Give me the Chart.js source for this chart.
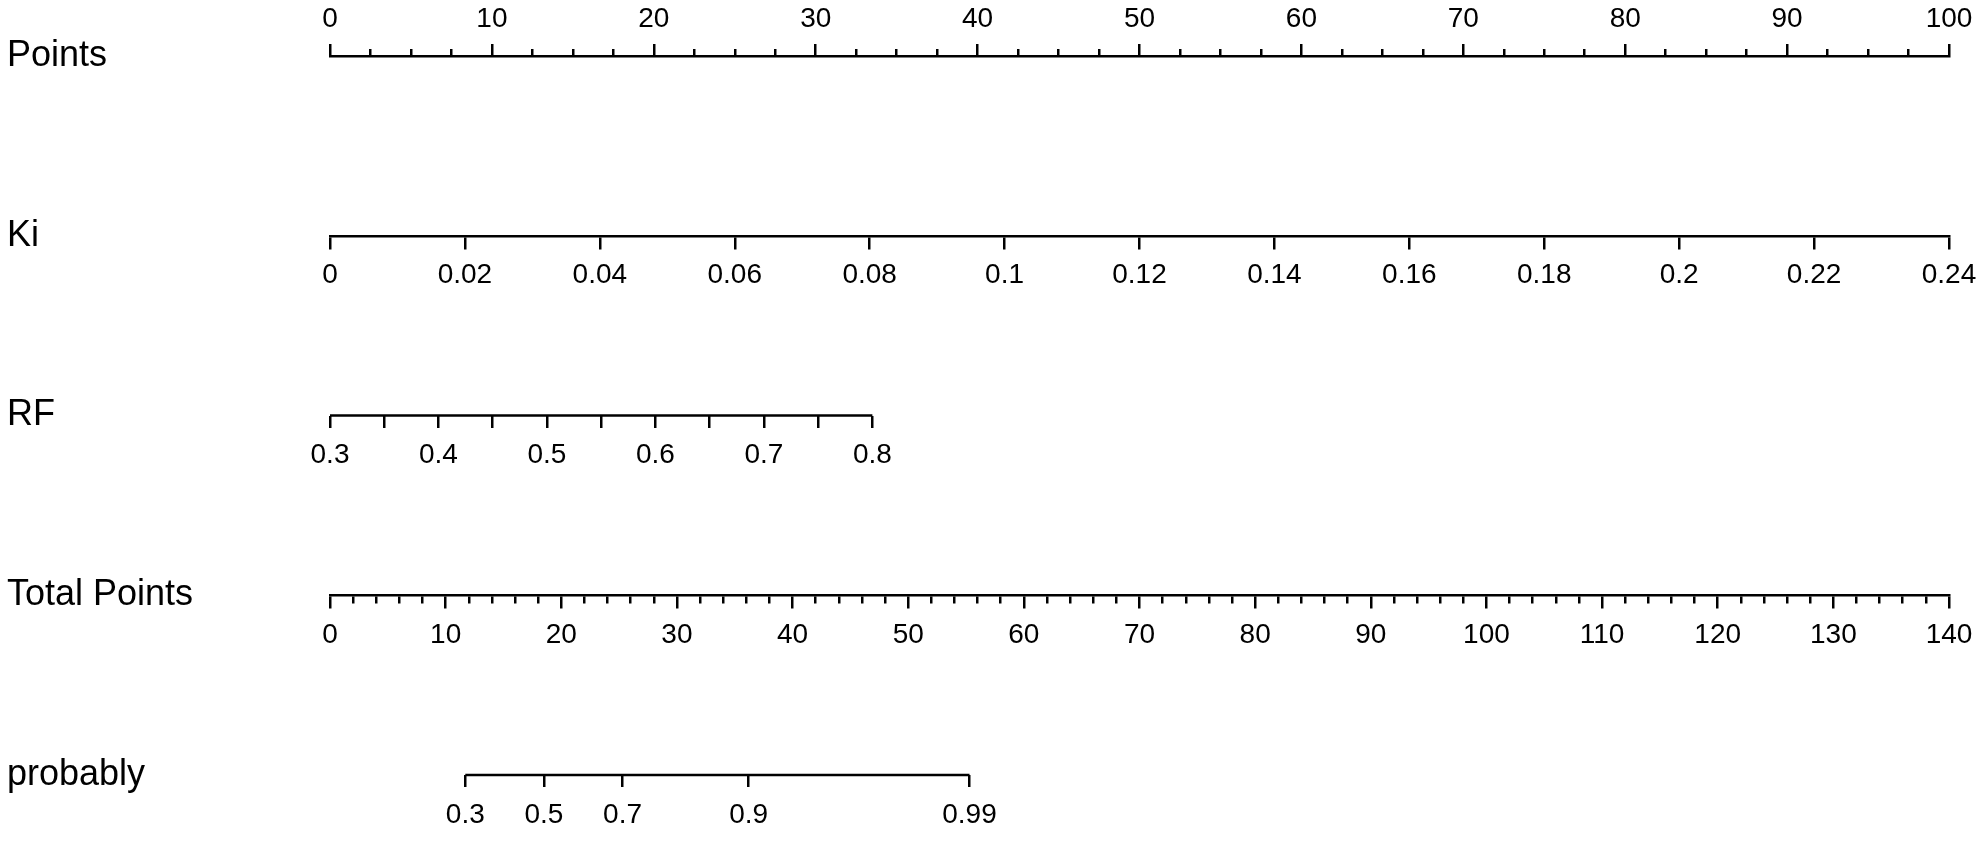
<!DOCTYPE html>
<html>
<head>
<meta charset="utf-8">
<script src="https://cdn.jsdelivr.net/npm/chart.js@4.4.1/dist/chart.umd.min.js"></script>
<style>
  html, body { margin: 0; padding: 0; background: #fff; }
  #wrap { width: 1988px; height: 849px; }
</style>
</head>
<body>
<div id="wrap"><canvas id="nomogram" width="1988" height="849"></canvas></div>
<script>
// rows of the nomogram, top to bottom
const rowNames = ['Points', 'Ki', 'RF', 'Total Points', 'probably'];

// Points scale (0-100), minor ticks every 2.5
const pointsLabels = [0, 10, 20, 30, 40, 50, 60, 70, 80, 90, 100];
const pointsMinorStep = 2.5;

// Ki scale, spans the whole points range
const kiTicks = [0, 0.02, 0.04, 0.06, 0.08, 0.1, 0.12, 0.14, 0.16, 0.18, 0.2, 0.22, 0.24];
const kiLabels = ['0', '0.02', '0.04', '0.06', '0.08', '0.1', '0.12', '0.14', '0.16', '0.18', '0.2', '0.22', '0.24'];

// RF scale, 0.3 -> 0 points, 0.8 -> ~33.5 points
const rfTicks = [0.3, 0.35, 0.4, 0.45, 0.5, 0.55, 0.6, 0.65, 0.7, 0.75, 0.8];
const rfLabels = ['0.3', '', '0.4', '', '0.5', '', '0.6', '', '0.7', '', '0.8'];
const rfPointsAtMax = 33.5;

// Total points scale (0-140), minor ticks every 2
const totalLabels = [0, 10, 20, 30, 40, 50, 60, 70, 80, 90, 100, 110, 120, 130, 140];
const totalMinorStep = 2;

const probLabels = ['0.3', '0.5', '0.7', '0.9', '0.99'];
const probTotalPoints = [11.7, 18.5, 25.3, 36.2, 55.3];

const black = '#000';
const lineW = 2.5;
Chart.defaults.font.family = '"Liberation Sans", Arial, sans-serif';
Chart.defaults.color = black;

const tickFont = { size: 28 };

// minor ticks get shortened with a dash pattern
function minorDash(isMinor) {
    return ctx => (ctx.tick && isMinor(ctx.tick.value)) ? [7, 100] : [];
}

function bottomAxis(row, min, max, ticks, labels, extra) {
    return Object.assign({
        axis: 'x',
        type: 'linear',
        position: { y: row },
        min: min,
        max: max,
        afterBuildTicks: s => { s.ticks = ticks.map(v => ({ value: v })); },
        ticks: {
            autoSkip: false,
            maxRotation: 0,
            padding: 11,
            font: tickFont,
            callback: (v, i) => labels[i]
        },
        grid: { drawOnChartArea: false, drawTicks: true, tickLength: 12, tickWidth: lineW, tickColor: black, lineWidth: lineW },
        border: { display: true, width: lineW, color: black }
    }, extra || {});
}

const pointsTicks = [];
for (let v = 0; v <= 100; v += pointsMinorStep) pointsTicks.push(v);
const totalTicks = [];
for (let v = 0; v <= 140; v += totalMinorStep) totalTicks.push(v);

const rfMax = 0.3 + (0.8 - 0.3) * 100 / rfPointsAtMax;

const scales = {
    y: {
        type: 'linear',
        position: 'left',
        reverse: true,
        min: 0,
        max: rowNames.length - 1,
        afterBuildTicks: s => { s.ticks = rowNames.map((n, i) => ({ value: i })); },
        afterFit: s => { s.width = 323; },
        ticks: {
            crossAlign: 'far',
            font: { size: 36 },
            callback: (v) => rowNames[v]
        },
        grid: { display: false },
        border: { display: false }
    },
    points: {
        axis: 'x',
        type: 'linear',
        position: 'top',
        min: 0,
        max: 100,
        afterBuildTicks: s => { s.ticks = pointsTicks.map(v => ({ value: v })); },
        afterFit: s => { s.height = 56; },
        ticks: {
            autoSkip: false,
            maxRotation: 0,
            padding: 8,
            font: tickFont,
            callback: v => pointsLabels.includes(v) ? String(v) : ''
        },
        grid: {
            drawOnChartArea: false, drawTicks: true, tickLength: 12, tickWidth: lineW, tickColor: black, lineWidth: lineW,
            tickBorderDash: ctx => (ctx.tick && !pointsLabels.includes(ctx.tick.value)) ? [6, 100] : [],
            tickBorderDashOffset: ctx => (ctx.tick && !pointsLabels.includes(ctx.tick.value)) ? 101 : 0
        },
        border: { display: true, width: lineW, color: black }
    },
    ki: bottomAxis(1, 0, 0.24, kiTicks, kiLabels),
    rf: bottomAxis(2, 0.3, rfMax, rfTicks, rfLabels, {}),
    total: bottomAxis(3, 0, 140, totalTicks, totalTicks.map(v => totalLabels.includes(v) ? String(v) : '')),
    prob: bottomAxis(4, 0, 140, probTotalPoints, probLabels)
};
scales.rf.border = { display: false };
scales.prob.border = { display: false };
scales.total.grid.tickBorderDash = minorDash(v => !totalLabels.includes(v));

// RF and probability lines only cover part of the width
const segStyle = { type: 'line', borderColor: black, borderWidth: lineW, pointRadius: 0, clip: false, yAxisID: 'y' };

new Chart(document.getElementById('nomogram'), {
    data: {
        datasets: [
            Object.assign({ label: 'RF', xAxisID: 'rf',
                data: [{ x: rfTicks[0], y: 2 }, { x: rfTicks[rfTicks.length - 1], y: 2 }] }, segStyle),
            Object.assign({ label: 'probably', xAxisID: 'prob',
                data: [{ x: probTotalPoints[0], y: 4 }, { x: probTotalPoints[probTotalPoints.length - 1], y: 4 }] }, segStyle)
        ]
    },
    options: {
        responsive: false,
        animation: false,
        layout: { padding: { left: 7, right: 39, top: 0, bottom: 74 } },
        plugins: { legend: { display: false }, tooltip: { enabled: false } },
        scales: scales
    }
});
</script>
</body>
</html>
